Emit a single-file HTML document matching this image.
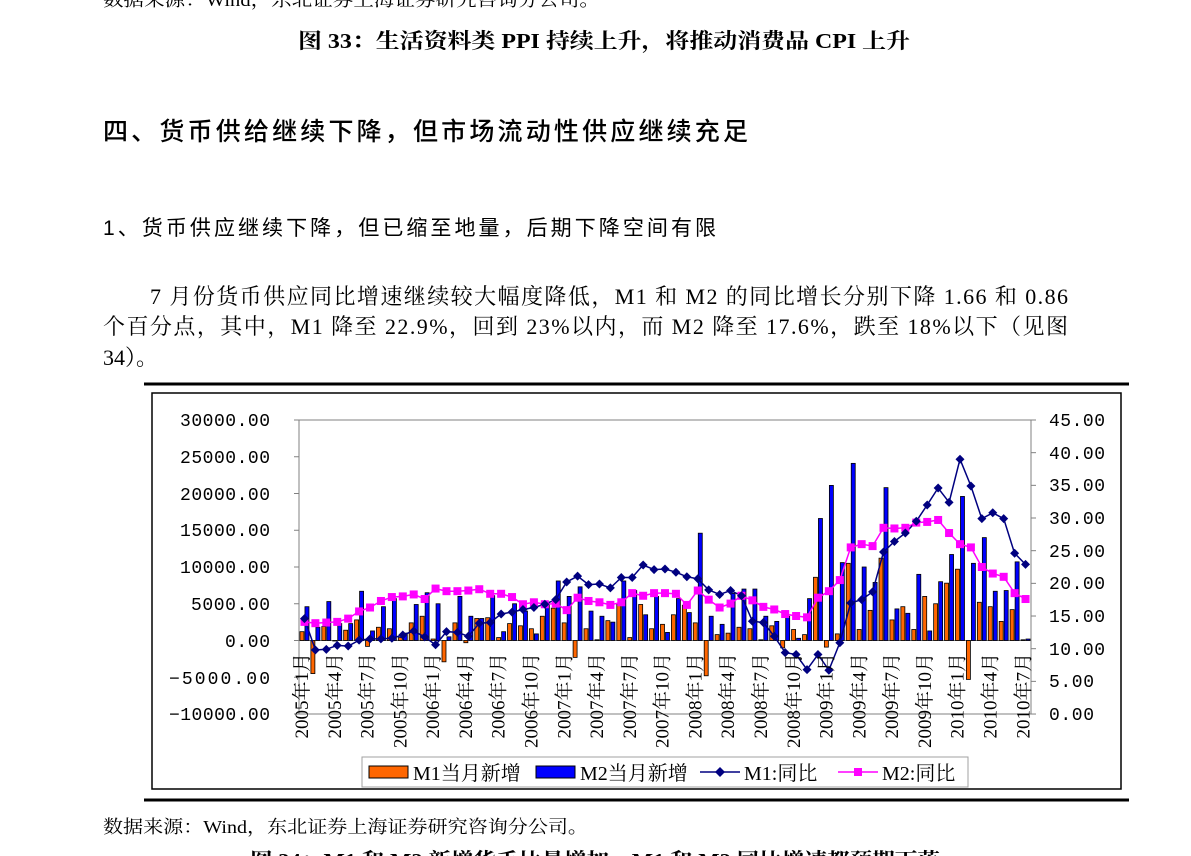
<!DOCTYPE html>
<html><head><meta charset="utf-8"><style>
html,body{margin:0;padding:0;background:#fff;}
svg{display:block;}
.s{font-family:"Liberation Serif","Noto Serif CJK SC",serif;fill:#000;}
.h{font-family:"Liberation Sans","Noto Sans CJK SC",sans-serif;fill:#000;}
.m{font-family:"Liberation Mono","Noto Serif CJK SC",monospace;fill:#000;font-size:18px;}
</style></head><body>
<svg id="g" width="1191" height="856" viewBox="0 0 1191 856" xmlns="http://www.w3.org/2000/svg">
<text class="s" x="103" y="6" font-size="18" textLength="497" lengthAdjust="spacingAndGlyphs">数据来源：Wind，东北证券上海证券研究咨询分公司。</text>
<text class="s" x="298" y="48" font-size="21" font-weight="bold" textLength="612" lengthAdjust="spacingAndGlyphs">图 33：生活资料类 PPI 持续上升，将推动消费品 CPI 上升</text>
<text class="h" x="103" y="140" font-size="25" font-weight="500" textLength="645" lengthAdjust="spacing">四、货币供给继续下降，但市场流动性供应继续充足</text>
<text class="h" x="103" y="235" font-size="21" textLength="613" lengthAdjust="spacing">1、货币供应继续下降，但已缩至地量，后期下降空间有限</text>
<text class="s" x="150" y="304" font-size="22" textLength="918" lengthAdjust="spacing">7 月份货币供应同比增速继续较大幅度降低，M1 和 M2 的同比增长分别下降 1.66 和 0.86</text>
<text class="s" x="103" y="334" font-size="22" textLength="965" lengthAdjust="spacing">个百分点，其中，M1 降至 22.9%，回到 23%以内，而 M2 降至 17.6%，跌至 18%以下（见图</text>
<text class="s" x="103" y="365" font-size="22">34）。</text>
<rect x="144" y="382.5" width="985" height="3" fill="#000"/>
<rect x="144" y="798.5" width="985" height="3" fill="#000"/>
<rect x="152" y="393" width="969" height="396" fill="#fff" stroke="#000" stroke-width="1.5"/>
<text class="s" x="103" y="833" font-size="18" textLength="485" lengthAdjust="spacingAndGlyphs">数据来源：Wind，东北证券上海证券研究咨询分公司。</text>
<text class="s" x="250" y="868" font-size="21" font-weight="bold" textLength="690" lengthAdjust="spacingAndGlyphs">图 34：M1 和 M2 新增货币比量增加，M1 和 M2 同比增速都预期下落</text>

<rect x="299" y="420" width="732" height="294" fill="none" stroke="#808080" stroke-width="1"/>
<line x1="299" y1="640.5" x2="1031" y2="640.5" stroke="#808080" stroke-width="1"/>
<g class="m" text-anchor="end">
<text x="270" y="426" textLength="90">30000.00</text>
<text x="270" y="463" textLength="90">25000.00</text>
<text x="270" y="500" textLength="90">20000.00</text>
<text x="270" y="536" textLength="90">15000.00</text>
<text x="270" y="573" textLength="90">10000.00</text>
<text x="270" y="610" textLength="79">5000.00</text>
<text x="270" y="647" textLength="45">0.00</text>
<text x="270" y="684" textLength="101">−5000.00</text>
<text x="270" y="720" textLength="101">−10000.00</text>
</g>
<g class="m">
<text x="1049" y="426" textLength="56">45.00</text>
<text x="1049" y="459" textLength="56">40.00</text>
<text x="1049" y="491" textLength="56">35.00</text>
<text x="1049" y="524" textLength="56">30.00</text>
<text x="1049" y="557" textLength="56">25.00</text>
<text x="1049" y="589" textLength="56">20.00</text>
<text x="1049" y="622" textLength="56">15.00</text>
<text x="1049" y="655" textLength="56">10.00</text>
<text x="1049" y="687" textLength="45">5.00</text>
<text x="1049" y="720" textLength="45">0.00</text>
</g>
<g id="ticks" stroke="#808080" stroke-width="1"></g>
<g id="bars"></g>
<g id="lines"></g>
<g id="xl" class="s" font-size="19" text-anchor="end">
<text transform="translate(308,653) rotate(-90)">2005年1月</text>
<text transform="translate(340.8,653) rotate(-90)">2005年4月</text>
<text transform="translate(373.6,653) rotate(-90)">2005年7月</text>
<text transform="translate(406.4,653) rotate(-90)">2005年10月</text>
<text transform="translate(439.1,653) rotate(-90)">2006年1月</text>
<text transform="translate(471.9,653) rotate(-90)">2006年4月</text>
<text transform="translate(504.7,653) rotate(-90)">2006年7月</text>
<text transform="translate(537.5,653) rotate(-90)">2006年10月</text>
<text transform="translate(570.3,653) rotate(-90)">2007年1月</text>
<text transform="translate(603.1,653) rotate(-90)">2007年4月</text>
<text transform="translate(635.9,653) rotate(-90)">2007年7月</text>
<text transform="translate(668.7,653) rotate(-90)">2007年10月</text>
<text transform="translate(701.4,653) rotate(-90)">2008年1月</text>
<text transform="translate(734.2,653) rotate(-90)">2008年4月</text>
<text transform="translate(767,653) rotate(-90)">2008年7月</text>
<text transform="translate(799.8,653) rotate(-90)">2008年10月</text>
<text transform="translate(832.6,653) rotate(-90)">2009年1月</text>
<text transform="translate(865.4,653) rotate(-90)">2009年4月</text>
<text transform="translate(898.2,653) rotate(-90)">2009年7月</text>
<text transform="translate(931,653) rotate(-90)">2009年10月</text>
<text transform="translate(963.7,653) rotate(-90)">2010年1月</text>
<text transform="translate(996.5,653) rotate(-90)">2010年4月</text>
<text transform="translate(1029.3,653) rotate(-90)">2010年7月</text>
</g>
<rect x="362" y="757" width="606" height="30" fill="#fff" stroke="#a0a0a0" stroke-width="1"/>
<rect x="369" y="766" width="39" height="12" fill="#ff6600" stroke="#000"/>
<text class="s" x="413" y="780" font-size="20">M1当月新增</text>
<rect x="536" y="766" width="39" height="12" fill="#0000ff" stroke="#000"/>
<text class="s" x="580" y="780" font-size="20">M2当月新增</text>
<line x1="700" y1="772" x2="740" y2="772" stroke="#000080" stroke-width="1.5"/>
<path d="M720 767 L725 772 L720 777 L715 772Z" fill="#000080"/>
<text class="s" x="744" y="780" font-size="20">M1:同比</text>
<line x1="838" y1="772" x2="878" y2="772" stroke="#ff00ff" stroke-width="1.5"/>
<rect x="854" y="768" width="8" height="8" fill="#ff00ff"/>
<text class="s" x="882" y="780" font-size="20">M2:同比</text>
</svg>
<script>
var m1n=[1.2,-4.5,1.9,0,1.4,2.8,-0.8,1.8,1.6,0.4,2.4,3.3,0.2,-2.9,2.4,-0.3,3.0,3.1,0.4,2.3,2.0,1.6,3.3,4.4,2.4,-2.3,1.6,0.1,2.7,5.0,0.4,4.9,1.6,2.2,3.5,4.8,2.4,-4.8,0.8,1.0,1.8,1.6,0.1,2.0,-1.0,1.5,0.8,8.6,-0.9,0.9,10.5,1.5,4.1,11.2,2.8,4.6,1.5,6.0,5.0,7.8,9.7,-5.3,5.2,4.6,2.6,4.2,0.1];
var m2n=[4.6,1.8,5.3,2.3,2.3,6.7,1.3,4.6,5.7,1.0,4.9,6.5,5.0,0.5,6.0,3.3,3.0,6.1,1.2,5.0,4.0,0.9,5.1,8.1,6.0,7.3,4.0,3.3,2.5,8.1,6.8,3.5,6.0,1.1,5.7,3.8,14.6,3.3,2.2,6.4,7.0,7.0,3.3,2.6,3.3,0.3,5.7,16.6,21.1,10.6,24.1,10.0,7.9,20.8,4.3,3.7,9.0,1.3,8.0,11.7,19.6,10.5,14.0,6.7,6.8,10.7,0.2];
var m1=[14.6,9.8,9.9,10.5,10.4,11.3,11.5,11.5,11.6,12.1,12.7,11.8,10.6,12.6,12.5,11.9,13.9,14.0,15.3,15.6,16.0,16.3,16.8,17.5,20.2,21.1,19.8,19.9,19.3,20.9,20.9,22.8,22.1,22.2,21.7,21.0,20.7,19.0,18.3,18.9,18.1,14.2,14.0,11.9,9.4,9.1,6.8,9.1,6.7,10.9,17.0,17.5,18.7,24.8,26.4,27.7,29.5,32.0,34.6,32.4,39.0,34.9,29.9,30.8,29.9,24.6,22.9];
var m2=[14.1,13.9,14.0,14.1,14.6,15.7,16.3,17.3,17.9,18.0,18.3,17.6,19.2,18.8,18.8,18.9,19.1,18.4,18.4,17.9,16.8,17.1,16.8,16.9,15.9,17.8,17.3,17.1,16.7,17.1,18.5,18.1,18.5,18.5,18.4,16.7,18.9,17.5,16.3,16.9,18.1,17.4,16.4,16.0,15.3,15.0,14.8,17.8,18.8,20.5,25.5,26.0,25.7,28.5,28.4,28.5,29.3,29.4,29.7,27.7,26.0,25.5,22.5,21.5,21.0,18.5,17.6];
var NS="http://www.w3.org/2000/svg";
function el(p,t,a){var e=document.createElementNS(NS,t);for(var k in a)e.setAttribute(k,a[k]);p.appendChild(e);return e;}
var W=732/67,Z=640.5,SL=7.35,SR=6.533;
function cx(i){return 299+(i+0.5)*W;}
function yl(v){return Z-v*SL;}
function yr(v){return 714-v*SR;}
var bars=document.getElementById('bars'),ln=document.getElementById('lines'),tk=document.getElementById('ticks');
for(var k=0;k<=8;k++){var y=420+k*36.75;el(tk,'line',{x1:294,y1:y,x2:299,y2:y});}
for(var k=0;k<=9;k++){var y=420+k*32.67;el(tk,'line',{x1:1031,y1:y,x2:1036,y2:y});}
for(var i=0;i<67;i++){
 var c=cx(i),a=yl(m1n[i]),b=yl(m2n[i]);
 el(bars,'rect',{x:c-4.5,y:Math.min(a,Z),width:4,height:Math.max(Math.abs(a-Z),0.5),fill:'#ff6600',stroke:'#000','stroke-width':0.8});
 el(bars,'rect',{x:c+0.5,y:Math.min(b,Z),width:4,height:Math.max(Math.abs(b-Z),0.5),fill:'#0000ff',stroke:'#000','stroke-width':0.8});
}
var p1='',p2='';
for(var i=0;i<67;i++){p1+=(i?'L':'M')+cx(i).toFixed(1)+' '+yr(m1[i]).toFixed(1);p2+=(i?'L':'M')+cx(i).toFixed(1)+' '+yr(m2[i]).toFixed(1);}
el(ln,'path',{d:p2,fill:'none',stroke:'#ff00ff','stroke-width':1.5});
el(ln,'path',{d:p1,fill:'none',stroke:'#000080','stroke-width':1.5});
for(var i=0;i<67;i++){var x=cx(i),y=yr(m2[i]);el(ln,'rect',{x:x-4,y:y-4,width:8,height:8,fill:'#ff00ff'});}
for(var i=0;i<67;i++){var x=cx(i),y=yr(m1[i]);el(ln,'path',{d:'M'+x+' '+(y-4.5)+'L'+(x+4.5)+' '+y+'L'+x+' '+(y+4.5)+'L'+(x-4.5)+' '+y+'Z',fill:'#000080'});}
</script>
</body></html>
